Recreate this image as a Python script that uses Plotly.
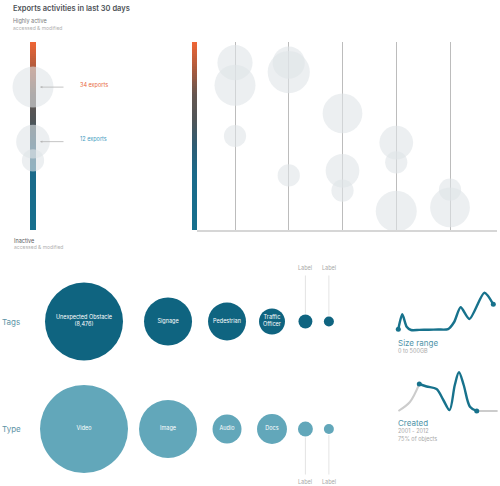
import numpy as np
import plotly.graph_objects as go

W, H = 500, 486
FONT = "Inter"

# ---------------- data ----------------
activity_levels = list(np.linspace(0, 100, 101))          # gradient scale of the activity bars

summary_activity = [76, 47, 37]                             # highly active (100) .. inactive (0)
summary_volume = [34, 23, 10]
summary_exports = [34, 12]

day_index = [1, 1, 1, 2, 2, 2, 3, 3, 3, 4, 4, 4, 5, 5]
day_activity = [89, 77, 50, 89, 84, 29, 62, 31.5, 21, 46.5, 36, 10, 21.5, 12]
day_volume = [25, 34, 10, 21, 36, 10, 32, 23, 10, 23, 10, 34, 10, 32]

tag_names = ["Unexpected Obstacle", "Signage", "Pedestrian", "Traffic<br>Officer", "Label", "Label"]
tag_counts = [8476, 3210, 2010, 940, 270, 140]
type_names = ["Video", "Image", "Audio", "Docs", "Label", "Label"]
type_counts = [10790, 4690, 1170, 1250, 310, 140]
row_names = ["Tags", "Type"]

size_gb = [0, 21, 44, 67, 110, 160, 210, 262, 294, 328, 374, 453, 500]
size_share = [0.7, 15.7, 3.3, 0, 0.1, 0.3, 0.5, 0.9, 8, 22.7, 11, 37.3, 25.7]

created_year = [1997, 1999.2, 2001, 2002.4, 2004.3, 2005.6, 2006.8, 2007.8, 2008.6, 2009.5, 2010.7, 2012, 2014, 2016]
created_count = [0, 9, 27, 24.5, 22, 11, 1, 26, 38.7, 26, 4.3, 0, 0, 0]
created_from, created_to = 2001, 2012

# ---------------- styles ----------------
ORANGE = "#e8683c"
TEAL_DARK = "#0f6480"
TEAL_LINE = "#17728c"
TEAL_TYPE = "#62a7ba"
TEAL_TEXT = "#4f93a8"
BUBBLE = "rgba(224,228,231,0.6)"
BAR_SCALE = [[0, "#16708e"], [0.3, "#1a6a8a"], [0.45, "#2e5c73"], [0.58, "#4f5558"],
             [0.72, "#655650"], [0.85, "#a85a3e"], [1, "#ef6535"]]


def dx(a, b):
    return [a / W, b / W]


def dy(top, bottom):
    return [1 - bottom / H, 1 - top / H]


def py(p):
    return 1 - p / H


fig = go.Figure()

# gradient bars (left summary + right timeline)
bar_z = [[v] for v in activity_levels]
for xa, ya in (("x", "y"), ("x2", "y2")):
    fig.add_trace(go.Heatmap(z=bar_z, x=[0], y=activity_levels, colorscale=BAR_SCALE,
                             zmin=0, zmax=100, showscale=False, hoverinfo="skip",
                             xaxis=xa, yaxis=ya))


def diam(values, vmax, dmax):
    return [dmax * np.sqrt(v / vmax) for v in values]


# summary bubbles
fig.add_trace(go.Scatter(x=[0] * len(summary_activity), y=summary_activity, mode="markers",
                         marker=dict(size=diam(summary_volume, 34, 41), color=BUBBLE, opacity=1,
                                     line=dict(width=0)),
                         cliponaxis=False, hoverinfo="skip", xaxis="x3", yaxis="y3"))

# timeline bubbles
fig.add_trace(go.Scatter(x=day_index, y=day_activity, mode="markers",
                         marker=dict(size=diam(day_volume, 34, 41), color=BUBBLE, opacity=1,
                                     line=dict(width=0)),
                         cliponaxis=False, hoverinfo="skip", xaxis="x4", yaxis="y4"))

# tag / type bubble rows
tag_d = diam(tag_counts, 8476, 78)
type_d = diam(type_counts, 8476, 78)
slot_r = [max(a, b) / 2 for a, b in zip(tag_d, type_d)]
START, GAP = 40, 11
centers = []
pos = START
for i, r in enumerate(slot_r):
    pos = START + r if i == 0 else pos + slot_r[i - 1] + GAP + r
    centers.append(pos)

annotations = []
for row, names, counts, dia, color in ((0, tag_names, tag_counts, tag_d, TEAL_DARK),
                                       (1, type_names, type_counts, type_d, TEAL_TYPE)):
    inner = []
    for i, (n, c, d) in enumerate(zip(names, counts, dia)):
        if d < 20:
            inner.append("")
            annotations.append(dict(xref="x5", yref="y5", x=centers[i], y=row, text=n,
                                    showarrow=True, arrowhead=0, arrowwidth=0.8, arrowcolor="#dcdcdc",
                                    ax=0, ay=-53.5 if row == 0 else 53, standoff=d / 2 + 1,
                                    borderpad=4, font=dict(size=5.5, color="#a8a8a8", family=FONT)))
        elif i == 0 and row == 0:
            inner.append(f"{n}<br>({c:,})")
        else:
            inner.append(n)
    fig.add_trace(go.Scatter(x=centers, y=[row] * len(names), mode="markers+text",
                             text=inner, textposition="middle center",
                             textfont=dict(size=5.5, color="white", family=FONT),
                             marker=dict(size=dia, color=color, opacity=1, line=dict(width=0)),
                             cliponaxis=False, hoverinfo="skip", xaxis="x5", yaxis="y5"))
    annotations.append(dict(xref="paper", yref="y5", x=0, y=row, text=row_names[row], showarrow=False,
                            xanchor="left", yanchor="middle",
                            font=dict(size=8, color="#5e94a6", family=FONT)))

# size range sparkline
fig.add_trace(go.Scatter(x=size_gb, y=size_share, mode="lines",
                         line=dict(color=TEAL_LINE, width=2.4, shape="spline", smoothing=0.7),
                         cliponaxis=False, hoverinfo="skip", xaxis="x6", yaxis="y6"))
fig.add_trace(go.Scatter(x=[size_gb[0], size_gb[-1]], y=[size_share[0], size_share[-1]], mode="markers",
                         marker=dict(size=5, color=TEAL_LINE, opacity=1), cliponaxis=False,
                         hoverinfo="skip", xaxis="x6", yaxis="y6"))

# created sparkline
left = [(x, y) for x, y in zip(created_year, created_count) if x <= created_from]
mid = [(x, y) for x, y in zip(created_year, created_count) if created_from <= x <= created_to]
right = [(x, y) for x, y in zip(created_year, created_count) if x >= created_to]
for seg, col, w in ((left, "#cccccc", 2), (right, "#cccccc", 2), (mid, TEAL_LINE, 2.4)):
    fig.add_trace(go.Scatter(x=[p[0] for p in seg], y=[p[1] for p in seg], mode="lines",
                             line=dict(color=col, width=w, shape="spline", smoothing=0.9),
                             cliponaxis=False, hoverinfo="skip", xaxis="x7", yaxis="y7"))
fig.add_trace(go.Scatter(x=[mid[0][0], mid[-1][0]], y=[mid[0][1], mid[-1][1]], mode="markers",
                         marker=dict(size=5, color=TEAL_LINE, opacity=1), cliponaxis=False,
                         hoverinfo="skip", xaxis="x7", yaxis="y7"))


# ---------------- annotations ----------------
def txt(x, y, text, size, color, weight=None):
    f = dict(size=size, color=color, family=FONT)
    if weight:
        f["weight"] = weight
    annotations.append(dict(xref="paper", yref="paper", x=x / W, y=py(y), text=text, showarrow=False,
                            xanchor="left", yanchor="middle", font=f))


txt(11, 8, "Exports activities in last 30 days", 7.5, "#4d5257", 600)
txt(11, 21, "Highly active", 5.5, "#7a7a7a")
txt(11, 28, "accessed & modified", 5, "#b0b0b0")
txt(12, 240, "Inactive", 5.5, "#5a5a5a")
txt(12, 247, "accessed & modified", 5, "#b0b0b0")
txt(396, 343, "Size range", 8, TEAL_TEXT)
txt(396, 351, "0 to 500GB", 5.5, "#a8a8a8")
txt(396, 423, "Created", 8, TEAL_TEXT)
txt(396, 431, f"{created_from} - {created_to}", 5.5, "#a8a8a8")
txt(396, 438, "75% of objects", 5.5, "#a8a8a8")

for act, n, col in zip(summary_activity[:2], summary_exports, [ORANGE, "#3f9cc0"]):
    annotations.append(dict(xref="x3", yref="y3", axref="x3", ayref="y3", x=7, y=act, ax=32, ay=act,
                            text="", showarrow=True, arrowhead=2, arrowsize=0.6, arrowwidth=0.8,
                            arrowcolor="#b5b5b5"))
    annotations.append(dict(xref="x3", yref="y3", x=45, y=act + 1, text=f"{n} exports", showarrow=False,
                            xanchor="left", yanchor="middle", font=dict(size=5.5, color=col, family=FONT)))

# ---------------- layout ----------------
hidden = dict(visible=False, fixedrange=True)
BAR_TOP, BAR_BOT = 42, 230
layout = dict(
    width=W, height=H, margin=dict(l=0, r=0, t=0, b=0),
    paper_bgcolor="white", plot_bgcolor="rgba(0,0,0,0)", showlegend=False,
    font=dict(family=FONT),
    xaxis=dict(hidden, domain=dx(30, 36), range=[-0.5, 0.5]),
    yaxis=dict(hidden, domain=dy(BAR_TOP, BAR_BOT), range=[0, 100]),
    xaxis2=dict(hidden, domain=dx(192, 197), range=[-0.5, 0.5]),
    yaxis2=dict(hidden, domain=dy(BAR_TOP, BAR_BOT), range=[0, 100]),
    xaxis3=dict(hidden, domain=dx(0, 180), range=[-33, 147]),
    yaxis3=dict(hidden, domain=dy(BAR_TOP, BAR_BOT), range=[0, 100]),
    xaxis4=dict(domain=dx(197, 497), range=[1 - 38 / 53.75, 1 + 262 / 53.75], tickvals=[1, 2, 3, 4, 5],
                showticklabels=False, ticks="", showgrid=True, gridcolor="#bcbcbc", gridwidth=1,
                zeroline=False, showline=True, linecolor="#d6d6d6", linewidth=1.5, fixedrange=True),
    yaxis4=dict(hidden, domain=dy(BAR_TOP, BAR_BOT), range=[0, 100]),
    xaxis5=dict(hidden, domain=dx(19, 380), range=[19, 380]),
    yaxis5=dict(hidden, domain=dy(255, 486),
                range=[(486 - 321.5) / 107.5, (255 - 321.5) / 107.5]),
    xaxis6=dict(hidden, domain=dx(393, 498), range=[-27.9, 524.7]),
    yaxis6=dict(hidden, domain=dy(286, 333), range=[-3, 44]),
    xaxis7=dict(hidden, domain=dx(393, 500), range=[1995.96, 2016.46]),
    yaxis7=dict(hidden, domain=dy(368, 415), range=[-4, 43]),
    annotations=annotations,
)
fig.update_layout(**layout)
fig.write_html("out.html", config={"displayModeBar": False, "staticPlot": True},
               post_script="document.body.style.margin='0px';")
